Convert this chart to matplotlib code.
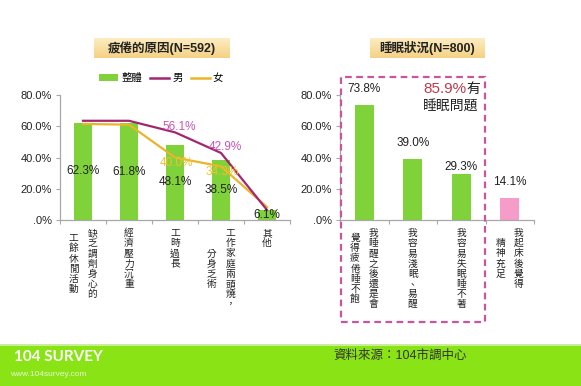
import matplotlib
matplotlib.use("Agg")
import matplotlib.pyplot as plt
import numpy as np
from matplotlib.lines import Line2D
from matplotlib.patches import Patch, Rectangle
from matplotlib.ticker import FuncFormatter, FixedLocator

W, H, DPI = 581, 386, 100

# ---- data ----
FATIGUE_LABELS = [
    ["缺乏調劑身心的", "工餘休閒活動"],
    ["經濟壓力沉重"],
    ["工時過長"],
    ["工作家庭兩頭燒，", "分身乏術"],
    ["其他"],
]
FATIGUE_ALL = [62.3, 61.8, 48.1, 38.5, 6.1]
FATIGUE_MALE = [63.5, 63.5, 56.1, 42.9, 6.4]
FATIGUE_FEMALE = [61.5, 61.0, 40.0, 34.3, 8.3]
MALE_SHOWN = [None, None, "56.1%", "42.9%", None]
FEMALE_SHOWN = [None, None, "40.0%", "34.3%", None]

SLEEP_LABELS = [
    ["我睡醒之後還是會", "覺得疲倦睡不飽"],
    ["我容易淺眠、易醒"],
    ["我容易失眠睡不著"],
    ["我起床後覺得", "精神充足"],
]
SLEEP_VALUES = [73.8, 39.0, 29.3, 14.1]
SLEEP_PROBLEM = ["85.9%", "有", "睡眠問題"]

TITLES = ["疲倦的原因(N=592)", "睡眠狀況(N=800)"]
LEGEND = ["整體", "男", "女"]
Y_TICKS = [0, 20, 40, 60, 80]

GREEN = "#7FD23A"
PINK = "#F59CC9"
MALE_C = "#A3276F"
MALE_TXT = "#C455B2"
FEMALE_C = "#EBB52A"
FEMALE_TXT = "#EFC232"
AXIS_C = "#A8A8A8"

plt.rcParams["font.family"] = ["Liberation Sans", "Noto Sans CJK TC"]


def px(x, y):
    return x / W, 1 - y / H


def box(x0, y0, x1, y1):
    l, t = px(x0, y0)
    r, b = px(x1, y1)
    return [l, b, r - l, t - b]


def tick_fmt(v, pos):
    return ".0%" if abs(v) < 1e-9 else f"{v:.1f}%"


def style_axis(ax, n):
    ax.set_ylim(0, 80)
    ax.set_xlim(-0.5, n - 0.5)
    for s in ("top", "right"):
        ax.spines[s].set_visible(False)
    for s in ("left", "bottom"):
        ax.spines[s].set_color(AXIS_C)
        ax.spines[s].set_linewidth(0.9)
    ax.set_yticks(Y_TICKS)
    ax.yaxis.set_major_formatter(FuncFormatter(tick_fmt))
    ax.tick_params(axis="y", length=3, width=0.8, color=AXIS_C, pad=3,
                   labelsize=8, labelcolor="#222222")
    ax.set_xticks([])
    ax.xaxis.set_minor_locator(FixedLocator(np.arange(n + 1) - 0.5))
    ax.tick_params(axis="x", which="minor", length=3, width=0.8, color=AXIS_C)
    ax.patch.set_alpha(0)


def vertical_label(ax, i, cols, step=7.3, gap=9.5, dx=6.6):
    # columns read right to left, each column centred on the longest one
    nmax = max(len(c) for c in cols)
    ncol = len(cols)
    for j, col in enumerate(cols):
        xoff = dx * (ncol - 1) / 2 * 2 / max(ncol - 1, 1) - 2 * dx * j if ncol > 1 else 0
        shift = (nmax - len(col)) / 2
        for k, ch in enumerate(col):
            ax.annotate(ch, xy=(i, 0), xycoords="data",
                        xytext=(xoff, -(gap + (k + shift) * step)),
                        textcoords="offset points", ha="center", va="center",
                        fontsize=7, color="#222222", annotation_clip=False)


def title_box(fig, rect, text):
    bax = fig.add_axes(box(*rect))
    grad = np.linspace(0, 1, 50)[:, None]
    c_top = np.array([0.99, 0.93, 0.76])
    c_bot = np.array([0.96, 0.82, 0.52])
    img = c_top[None, None, :] * (1 - grad[:, :, None]) + c_bot[None, None, :] * grad[:, :, None]
    bax.imshow(np.repeat(img, 4, axis=1), aspect="auto", extent=(0, 1, 0, 1))
    bax.set_axis_off()
    bax.text(0.5, 0.48, text, ha="center", va="center", fontsize=9,
             fontweight="bold", color="#222222", transform=bax.transAxes)


fig = plt.figure(figsize=(W / DPI, H / DPI), dpi=DPI)
fig.patch.set_facecolor("white")

# ---- left chart ----
ax1 = fig.add_axes(box(60, 95, 290, 220))
x1 = np.arange(len(FATIGUE_ALL))
ax1.bar(x1, FATIGUE_ALL, width=0.4, color=GREEN, zorder=1)
ax1.plot(x1, FATIGUE_MALE, color=MALE_C, lw=1.6, zorder=3)
ax1.plot(x1, FATIGUE_FEMALE, color=FEMALE_C, lw=1.6, zorder=2)
style_axis(ax1, len(FATIGUE_ALL))
for i, v in enumerate(FATIGUE_ALL):
    ax1.text(i, v / 2, f"{v}%", ha="center", va="center", fontsize=8.5,
             color="#222222", zorder=4)
for i, (lab, v) in enumerate(zip(MALE_SHOWN, FATIGUE_MALE)):
    if lab:
        ax1.annotate(lab, xy=(i, v), xytext=(3, 4), textcoords="offset points",
                     ha="center", va="center", fontsize=8.5, color=MALE_TXT, zorder=5)
for i, (lab, v) in enumerate(zip(FEMALE_SHOWN, FATIGUE_FEMALE)):
    if lab:
        ax1.annotate(lab, xy=(i, v), xytext=(1, -4), textcoords="offset points",
                     ha="center", va="center", fontsize=8.5, color=FEMALE_TXT, zorder=5)
for i, cols in enumerate(FATIGUE_LABELS):
    vertical_label(ax1, i, cols)

handles = [
    Patch(facecolor=GREEN, edgecolor="none"),
    Line2D([], [], color=MALE_C, lw=1.8),
    Line2D([], [], color=FEMALE_C, lw=1.8),
]
ax1.legend(handles, LEGEND, loc="center", bbox_to_anchor=(0.44, 1.136), ncol=3,
           frameon=False, fontsize=7.5, handlelength=1.8, handleheight=0.6,
           handletextpad=0.3, columnspacing=0.8)

# ---- right chart ----
ax2 = fig.add_axes(box(340, 95, 534, 220))
x2 = np.arange(len(SLEEP_VALUES))
colors = [GREEN] * (len(SLEEP_VALUES) - 1) + [PINK]
ax2.bar(x2, SLEEP_VALUES, width=0.4, color=colors, zorder=1)
style_axis(ax2, len(SLEEP_VALUES))
offsets = [7, 7, 1, 7]
for i, v in enumerate(SLEEP_VALUES):
    ax2.annotate(f"{v}%", xy=(i, v), xytext=(0, offsets[i]), textcoords="offset points",
                 ha="center", va="bottom", fontsize=8.5, color="#222222")
for i, cols in enumerate(SLEEP_LABELS):
    vertical_label(ax2, i, cols)

# dashed highlight box
l, b, w, h = box(341, 77, 485, 322)
fig.patches.append(Rectangle((l, b), w, h, transform=fig.transFigure, fill=False,
                             edgecolor="#C8559E", lw=1.6, ls=(0, (3, 2))))
fig.text(*px(466, 89), SLEEP_PROBLEM[0], ha="right", va="center", fontsize=11,
         color="#C23A4A")
fig.text(*px(466, 89), SLEEP_PROBLEM[1], ha="left", va="center", fontsize=10,
         color="#222222")
fig.text(*px(478, 107), SLEEP_PROBLEM[2], ha="right", va="center", fontsize=10,
         color="#222222")

# ---- titles ----
title_box(fig, (94, 38, 230, 58), TITLES[0])
title_box(fig, (370, 38, 485, 58), TITLES[1])

# ---- footer ----
fb = box(0, 345, 581, 386)
fig.patches.append(Rectangle((fb[0], fb[1]), fb[2], fb[3], transform=fig.transFigure,
                             facecolor="#8AE314", edgecolor="none"))
lb = box(0, 344, 581, 346)
fig.patches.append(Rectangle((lb[0], lb[1]), lb[2], lb[3], transform=fig.transFigure,
                             facecolor="#C9EE9A", edgecolor="none"))
fig.text(*px(14, 357), "104 SURVEY", ha="left", va="center", fontsize=11,
         fontweight="bold", color="white", family=["Lato", "DejaVu Sans"])
fig.text(*px(10, 374), "www.104survey.com", ha="left", va="center", fontsize=6,
         color="#E8F8D0")
fig.text(*px(400, 356), "資料來源：104市調中心", ha="center", va="center",
         fontsize=9, color="#333333")

fig.savefig("out.png", dpi=DPI)
